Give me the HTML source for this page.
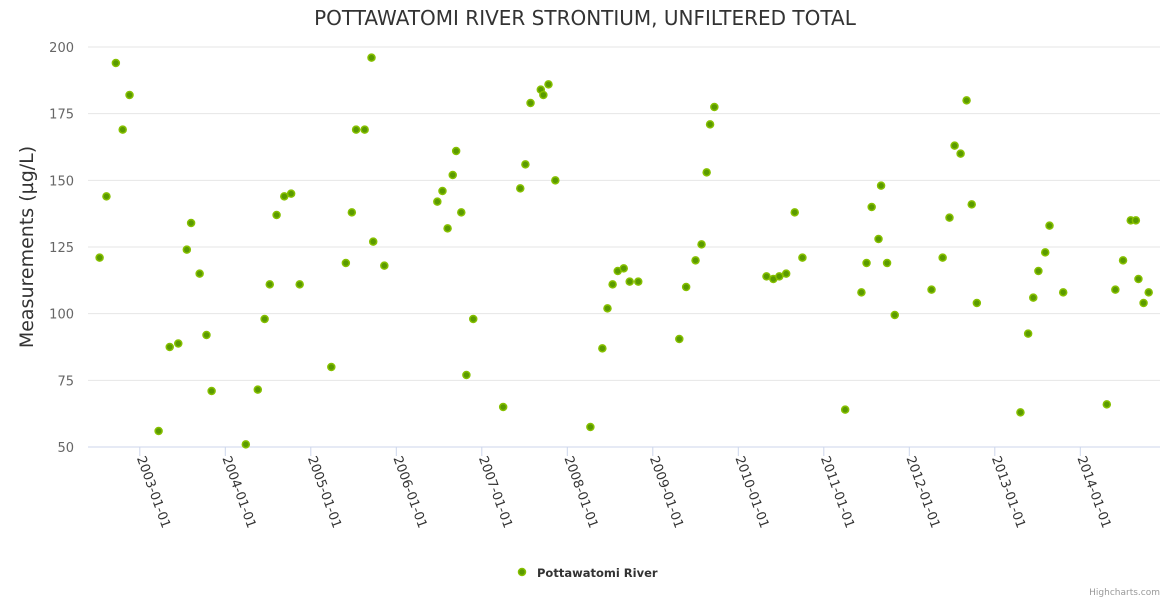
<!DOCTYPE html>
<html><head><meta charset="utf-8"><style>
body{margin:0;background:#fff;}
svg{display:block;font-family:"DejaVu Sans","Liberation Sans",sans-serif;}
</style></head><body>
<svg id="chart" width="1170" height="600">
<text x="585" y="25" text-anchor="middle" font-size="20" fill="#333">POTTAWATOMI RIVER STRONTIUM, UNFILTERED TOTAL</text>
<text transform="translate(33,247) rotate(-90)" text-anchor="middle" font-size="19" fill="#333">Measurements (µg/L)</text>
<g id="grid"></g><g id="xaxis"></g><g id="pts"></g>
<g>
<circle cx="522" cy="572" r="3.5" fill="#5a9a00" stroke="#86c000" stroke-width="1.5"></circle>
<text x="537" y="577" font-size="11.5" font-weight="bold" fill="#333">Pottawatomi River</text>
</g>
<text x="1160" y="595" text-anchor="end" font-size="9" fill="#999">Highcharts.com</text>
</svg>
<script>
const yTicks=[50,75,100,125,150,175,200];
const xTickYears=[2003,2004,2005,2006,2007,2008,2009,2010,2011,2012,2013,2014];
const dates=[2002.53,2002.61,2002.72,2002.80,2002.88,2003.22,2003.35,2003.45,2003.55,2003.60,2003.70,2003.78,2003.84,2004.24,2004.38,2004.46,2004.52,2004.60,2004.69,2004.77,2004.87,2005.24,2005.41,2005.48,2005.53,2005.63,2005.71,2005.73,2005.86,2006.48,2006.54,2006.60,2006.66,2006.70,2006.76,2006.82,2006.90,2007.25,2007.45,2007.51,2007.57,2007.69,2007.72,2007.78,2007.86,2008.27,2008.41,2008.47,2008.53,2008.59,2008.66,2008.73,2008.83,2009.31,2009.39,2009.50,2009.57,2009.63,2009.67,2009.72,2010.33,2010.41,2010.48,2010.56,2010.66,2010.75,2011.25,2011.44,2011.50,2011.56,2011.64,2011.67,2011.74,2011.83,2012.26,2012.39,2012.47,2012.53,2012.60,2012.67,2012.73,2012.79,2013.30,2013.39,2013.45,2013.51,2013.59,2013.64,2013.80,2014.31,2014.41,2014.50,2014.59,2014.65,2014.68,2014.74,2014.80];
const values=[121,144,194,169,182,56,87.5,88.8,124,134,115,92,71,51,71.5,98,111,137,144,145,111,80,119,138,169,169,196,127,118,142,146,132,152,161,138,77,98,65,147,156,179,184,182,186,150,57.5,87,102,111,116,117,112,112,90.5,110,120,126,153,171,177.5,114,113,114,115,138,121,64,108,119,140,128,148,119,99.5,109,121,136,163,160,180,141,104,63,92.5,106,116,123,133,108,66,109,120,135,135,113,104,108];
const NS='http://www.w3.org/2000/svg';
const L=88,R=1160,T=47,B=447;
const x=yr=>139.8+(yr-2003)*85.5;
const y=v=>B-(v-50)/150*(B-T);
function mk(tag,at,par){const e=document.createElementNS(NS,tag);for(const k in at)e.setAttribute(k,at[k]);document.getElementById(par).appendChild(e);return e;}
yTicks.forEach(v=>{
  const ln=mk('line',{x1:L,x2:R,y1:y(v),y2:y(v),stroke:v===50?'#ccd6eb':'#e6e6e6','stroke-width':1},'grid');
  
  
  const t=mk('text',{x:74,y:y(v)+5,'text-anchor':'end','font-size':13,fill:'#666'},'grid');
  t.textContent=v;
  
  
});
xTickYears.forEach(yr=>{
  const px=x(yr);
  const tk=mk('line',{x1:px,x2:px,y1:B,y2:B+9,stroke:'#ccd6eb'},'xaxis');
  
  
  const t=mk('text',{transform:`translate(${px-3},${B+11}) rotate(70)`,'font-size':13,fill:'#333'},'xaxis');
  t.textContent=yr+'-01-01';
  
  
});
dates.forEach((d,i)=>{
  const c=mk('circle',{cx:x(d),cy:y(values[i]),r:3.5,fill:'#5a9a00',stroke:'#86c000','stroke-width':1.5},'pts');
  
  
});
</script>
</body></html>
